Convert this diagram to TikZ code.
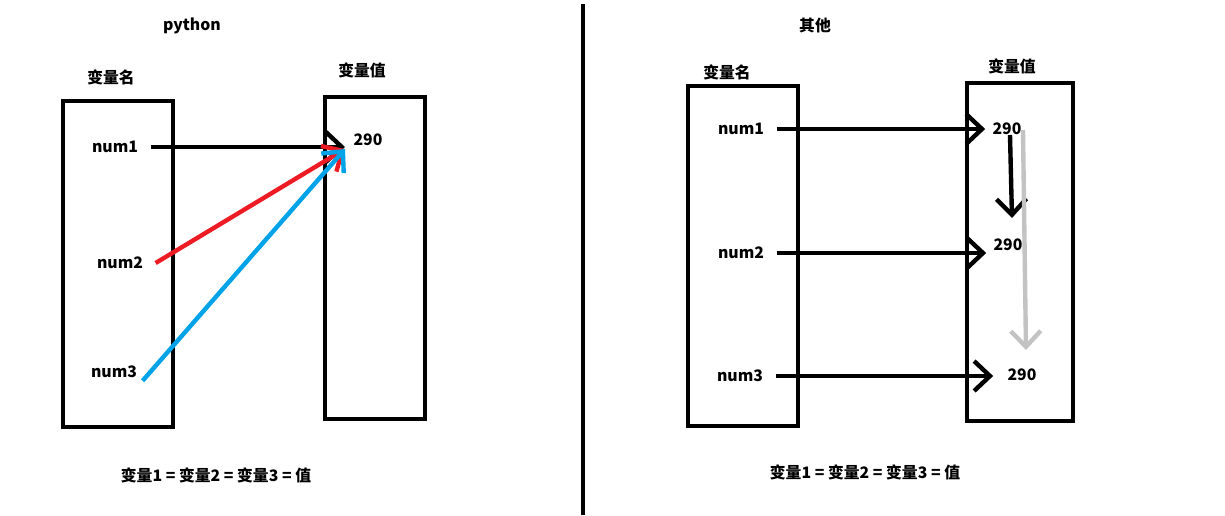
\documentclass[tikz,border=0pt]{standalone}
\usepackage{fontspec}
\setmainfont{Noto Sans CJK SC}
\usetikzlibrary{arrows.meta}
\definecolor{paintred}{RGB}{237,28,36}
\definecolor{paintblue}{RGB}{0,162,232}
\definecolor{paintgray}{RGB}{195,195,195}

\begin{document}
\begin{tikzpicture}[x=0.02cm, y=-0.02cm,
    lbl/.style={font=\bfseries\fontsize{9}{10}\selectfont, inner sep=1pt},
    var/.style={lbl, inner sep=7pt},
    val/.style={lbl, inner sep=4pt},
    box/.style={line width=2.6pt},
    ptr/.style={line width=2.5pt, -{Straight Barb[length=9pt,width=17pt,line width=2.5pt]}}]
\useasboundingbox (0,0) rectangle (1225,515);

% python
\node[lbl, anchor=center] (t1) at (192,26) {python};
\node[lbl, anchor=center] (h1) at (111,77) {变量名};
\node[lbl, anchor=center] (h2) at (362,70) {变量值};
\draw[box] (63,101) rectangle (173,427);
\draw[box] (325,97) rectangle (425,419);
\node[var, anchor=center] (a1) at (115,147) {num1};
\node[var, anchor=center] (a2) at (120,263) {num2};
\node[var, anchor=center] (a3) at (114,372) {num3};
\node[val, anchor=center] (av) at (368,140) {290};
\coordinate (tipa) at (345,149);
\draw[ptr] (a1.east) -- (345,147);
\draw[ptr, paintred] (a2.east) -- (tipa);
\draw[ptr, paintblue] ([xshift=-4pt,yshift=-5pt]a3.east) -- (tipa);
\node[lbl, anchor=center] (f1) at (216,475) {变量1 = 变量2 = 变量3 = 值};

\draw[line width=2.6pt] (583,4) -- (583,515);

% other
\node[lbl, anchor=center] (t2) at (815,25) {其他};
\node[lbl, anchor=center] (h3) at (727,72) {变量名};
\node[lbl, anchor=center] (h4) at (1012,66) {变量值};
\draw[box] (688,86) rectangle (798,426);
\draw[box] (967,83) rectangle (1073,421);
\node[var, anchor=center] (b1) at (741,129) {num1};
\node[var, anchor=center] (b2) at (741,253) {num2};
\node[var, anchor=center] (b3) at (740,376) {num3};
\node[val, anchor=center] (c1) at (1007,129) {290};
\node[val, anchor=center] (c2) at (1008,245) {290};
\node[val, anchor=center] (c3) at (1022,375) {290};
\draw[ptr] (b1.east) -- (c1.west);
\draw[ptr] (b2.east) -- (c2.west |- b2.east);
\draw[ptr] (b3.east) -- ([xshift=-4pt]c3.west |- b3.east);
\coordinate (d1) at (1010,135);
\coordinate (d2) at (1012,218);
\coordinate (g1) at (1023,130);
\coordinate (g2) at (1026,350);
\draw[ptr] (d1) -- (d2);
\draw[ptr, paintgray] (g1) -- (g2);
\node[lbl, anchor=center] (f2) at (865,472) {变量1 = 变量2 = 变量3 = 值};
\end{tikzpicture}
\end{document}
